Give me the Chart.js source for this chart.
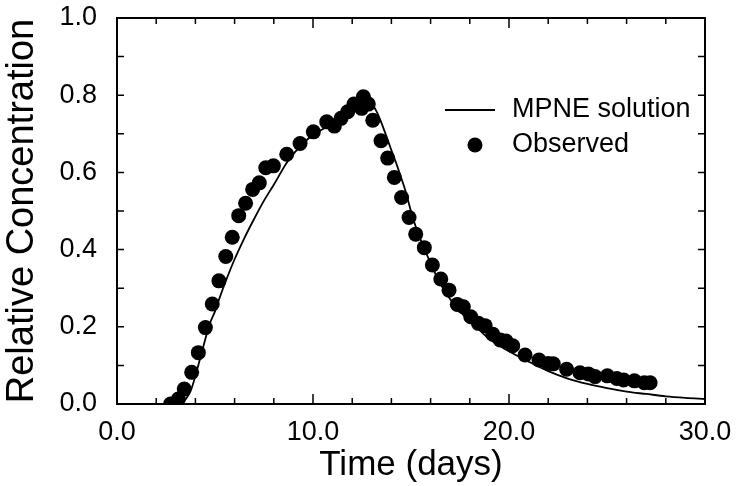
<!DOCTYPE html>
<html>
<head>
<meta charset="utf-8">
<script src="https://cdn.jsdelivr.net/npm/chart.js@4.4.1/dist/chart.umd.min.js"></script>
<style>
  body { margin: 0; background: #fff; }
  canvas { display: block; }
</style>
</head>
<body>
<canvas id="miGrafico" width="738" height="486"></canvas>
<script>
// Datos observados (dias, concentracion relativa)
const diasObs = [2.73, 3.13, 3.43, 3.81, 4.15, 4.51, 4.86, 5.20, 5.55, 5.88, 6.21, 6.56, 6.92, 7.26, 7.59, 7.98,
  8.66, 9.34, 10.02, 10.70, 11.09, 11.43, 11.77, 12.09, 12.48, 12.57, 12.82, 13.05, 13.47, 13.81, 14.15, 14.52,
  14.90, 15.24, 15.68, 16.09, 16.52, 16.94, 17.36, 17.67, 18.05, 18.44, 18.78, 19.17, 19.55, 19.85, 20.19, 20.82,
  21.53, 22.00, 22.26, 22.94, 23.62, 24.05, 24.39, 25.02, 25.50, 25.85, 26.40, 26.90, 27.20];
const concObs = [0.0, 0.013, 0.039, 0.082, 0.133, 0.198, 0.259, 0.319, 0.382, 0.432, 0.488, 0.520, 0.556, 0.573, 0.612, 0.617,
  0.647, 0.675, 0.705, 0.731, 0.720, 0.740, 0.757, 0.777, 0.766, 0.796, 0.777, 0.735, 0.682, 0.637, 0.587, 0.535,
  0.483, 0.440, 0.405, 0.360, 0.324, 0.295, 0.258, 0.252, 0.226, 0.209, 0.203, 0.181, 0.166, 0.163, 0.151, 0.127,
  0.114, 0.105, 0.104, 0.090, 0.081, 0.078, 0.071, 0.073, 0.066, 0.062, 0.060, 0.055, 0.055];

// Solucion MPNE
const diasModelo = [2.7, 3.2, 3.5, 3.8, 4.06, 4.4, 4.74, 5.0, 5.2, 5.6, 6.0, 6.5, 7.0, 7.5, 8.0, 8.66, 9.0, 9.68, 10.0,
  10.7, 11.0, 11.55, 12.0, 12.57, 13.0, 13.2, 13.4, 13.7, 13.93, 14.2, 14.44, 14.7, 15.12, 15.63, 16.0, 16.31, 16.8,
  17.33, 18.0, 18.52, 19.0, 19.88, 21.07, 22.0, 23.0, 24.0, 25.0, 26.0, 27.0, 28.0, 29.0, 30.0];
const concModelo = [0.0, 0.004, 0.012, 0.04, 0.084, 0.148, 0.209, 0.24, 0.27, 0.325, 0.375, 0.43, 0.48, 0.527, 0.568, 0.625, 0.648, 0.684, 0.697,
  0.718, 0.727, 0.742, 0.754, 0.768, 0.775, 0.762, 0.74, 0.70, 0.667, 0.63, 0.595, 0.555, 0.478, 0.408, 0.365, 0.33, 0.286,
  0.25, 0.213, 0.19, 0.168, 0.14, 0.108, 0.085, 0.066, 0.052, 0.041, 0.032, 0.026, 0.020, 0.016, 0.013];

// Marcas de los ejes
const marcasX = [0, 2, 4, 6, 8, 10, 12, 14, 16, 18, 20, 22, 24, 26, 28, 30];
const marcasMayoresX = [0, 10, 20, 30];
const marcasY = [0, 0.1, 0.2, 0.3, 0.4, 0.5, 0.6, 0.7, 0.8, 0.9, 1.0];

const fuente = "'Liberation Sans', Arial, Helvetica, sans-serif";

function aPuntos(xs, ys) {
    return xs.map(function (x, i) {
        return { x: x, y: ys[i] };
    });
}

// Quita el relleno extra que Chart.js agrega por las etiquetas de los extremos
function sinRelleno(s, alto, ancho) {
    if (alto) s.height = alto;
    if (ancho) s.width = ancho;
    s.paddingLeft = 0;
    s.paddingRight = 0;
    s.paddingTop = 0;
    s.paddingBottom = 0;
}

// Dibuja el marco, las marcas hacia adentro y la leyenda
const marco = {
    id: 'marco',
    afterDraw: function (chart) {
        const ctx = chart.ctx;
        const a = chart.chartArea;
        const sx = chart.scales.x;
        const sy = chart.scales.y;
        ctx.save();
        ctx.strokeStyle = '#000';
        ctx.lineWidth = 2;
        ctx.strokeRect(a.left, a.top, a.right - a.left, a.bottom - a.top);

        ctx.lineWidth = 1.5;
        ctx.beginPath();
        marcasX.forEach(function (v) {
            const px = sx.getPixelForValue(v);
            const largo = marcasMayoresX.includes(v) ? 10 : 6;
            ctx.moveTo(px, a.bottom); ctx.lineTo(px, a.bottom - largo);
            ctx.moveTo(px, a.top); ctx.lineTo(px, a.top + largo);
        });
        marcasY.forEach(function (v) {
            const py = sy.getPixelForValue(v);
            ctx.moveTo(a.left, py); ctx.lineTo(a.left + 7, py);
            ctx.moveTo(a.right, py); ctx.lineTo(a.right - 7, py);
        });
        ctx.stroke();

        // Leyenda
        const ds = chart.data.datasets;
        ctx.font = '27px ' + fuente;
        ctx.fillStyle = '#000';
        ctx.textBaseline = 'middle';
        ctx.lineWidth = 1.8;
        ctx.beginPath();
        ctx.moveTo(445, 110); ctx.lineTo(495, 110);
        ctx.stroke();
        ctx.fillText(ds[0].label, 512, 110);
        ctx.beginPath();
        ctx.arc(475, 145, 7.5, 0, Math.PI * 2);
        ctx.fill();
        ctx.fillText(ds[1].label, 512, 145);
        ctx.restore();
    }
};

const ctx = document.getElementById('miGrafico').getContext('2d');
const grafico = new Chart(ctx, {
    type: 'scatter',
    data: {
        datasets: [{
            label: 'MPNE solution',
            data: aPuntos(diasModelo, concModelo),
            showLine: true,
            borderColor: '#000',
            borderWidth: 1.8,
            pointRadius: 0,
            cubicInterpolationMode: 'monotone'
        }, {
            label: 'Observed',
            data: aPuntos(diasObs, concObs),
            showLine: false,
            backgroundColor: '#000',
            borderColor: '#000',
            pointRadius: 7.5,
            borderWidth: 0
        }]
    },
    options: {
        responsive: false,
        animation: false,
        layout: { padding: { top: 18, right: 33, left: 0, bottom: 0 } },
        plugins: {
            legend: { display: false },
            tooltip: { enabled: false }
        },
        scales: {
            x: {
                type: 'linear',
                min: 0,
                max: 30,
                afterFit: function (s) { sinRelleno(s, 82, 0); },
                grid: { display: false, drawTicks: false },
                border: { display: false },
                ticks: {
                    stepSize: 10,
                    padding: 12,
                    maxRotation: 0,
                    color: '#000',
                    font: { family: fuente, size: 27 },
                    callback: function (v) { return v.toFixed(1); }
                },
                title: {
                    display: true,
                    text: 'Time (days)',
                    color: '#000',
                    font: { family: fuente, size: 35 },
                    padding: { top: 0, bottom: 0 }
                }
            },
            y: {
                type: 'linear',
                min: 0,
                max: 1,
                afterFit: function (s) { sinRelleno(s, 0, 117); },
                grid: { display: false, drawTicks: false },
                border: { display: false },
                ticks: {
                    stepSize: 0.2,
                    padding: 20,
                    color: '#000',
                    font: { family: fuente, size: 27 },
                    callback: function (v) { return v.toFixed(1); }
                },
                title: {
                    display: true,
                    text: 'Relative Concentration',
                    color: '#000',
                    font: { family: fuente, size: 38 },
                    padding: { top: 0, bottom: 0 }
                }
            }
        }
    },
    plugins: [marco]
});
</script>
</body>
</html>
